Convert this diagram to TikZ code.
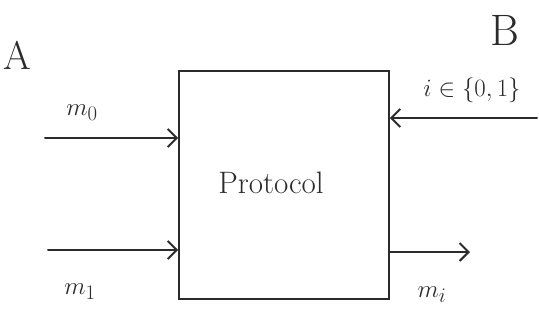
\documentclass[tikz,border=0pt]{standalone}
\usetikzlibrary{arrows.meta}
\definecolor{ink}{HTML}{2B2B2B}
\begin{document}
\begin{tikzpicture}[x=1pt,y=-1pt,
  ink/.style={draw=ink, line width=2pt, line cap=round},
  flow/.style={ink, -{Straight Barb[length=9pt,width=18pt,line width=2pt]}},
  lbl/.style={text=ink, inner sep=0pt},
  protobox/.style={draw=ink, line width=1.8pt, minimum width=210pt, minimum height=228pt, inner sep=0pt}]
\useasboundingbox (0,0) rectangle (539,325);

% the protocol block
\node[protobox] (proto) at (284,185) {};
\node[lbl, font=\fontsize{31}{31}\selectfont] (ptext) at (271,183) {Protocol};

% parties
\node[lbl, font=\fontsize{40}{40}\selectfont] (pa) at (17,55) {A};
\node[lbl, font=\fontsize{44}{44}\selectfont] (pb) at (505,30) {B};

% inputs from A
\coordinate (s0) at (45,138);
\coordinate (s1) at (48,250);
\draw[flow] (s0) -- (s0 -| proto.west);
\draw[flow] (s1) -- (s1 -| proto.west);
\node[lbl, font=\fontsize{28}{28}\selectfont] (m0) at (82,113) {$m_0$};
\node[lbl, font=\fontsize{28}{28}\selectfont] (m1) at (80,292) {$m_1$};

% choice bit from B
\coordinate (sb) at (537,118);
\draw[flow] (sb) -- (sb -| proto.east);
\node[lbl, font=\fontsize{28}{28}\selectfont] (ib) at (472,90) {$i\in\{0,1\}$};

% output to B
\coordinate (so) at (470,252);
\draw[flow] (so -| proto.east) -- (so);
\node[lbl, font=\fontsize{28}{28}\selectfont] (mi) at (432,295) {$m_i$};
\end{tikzpicture}
\end{document}
